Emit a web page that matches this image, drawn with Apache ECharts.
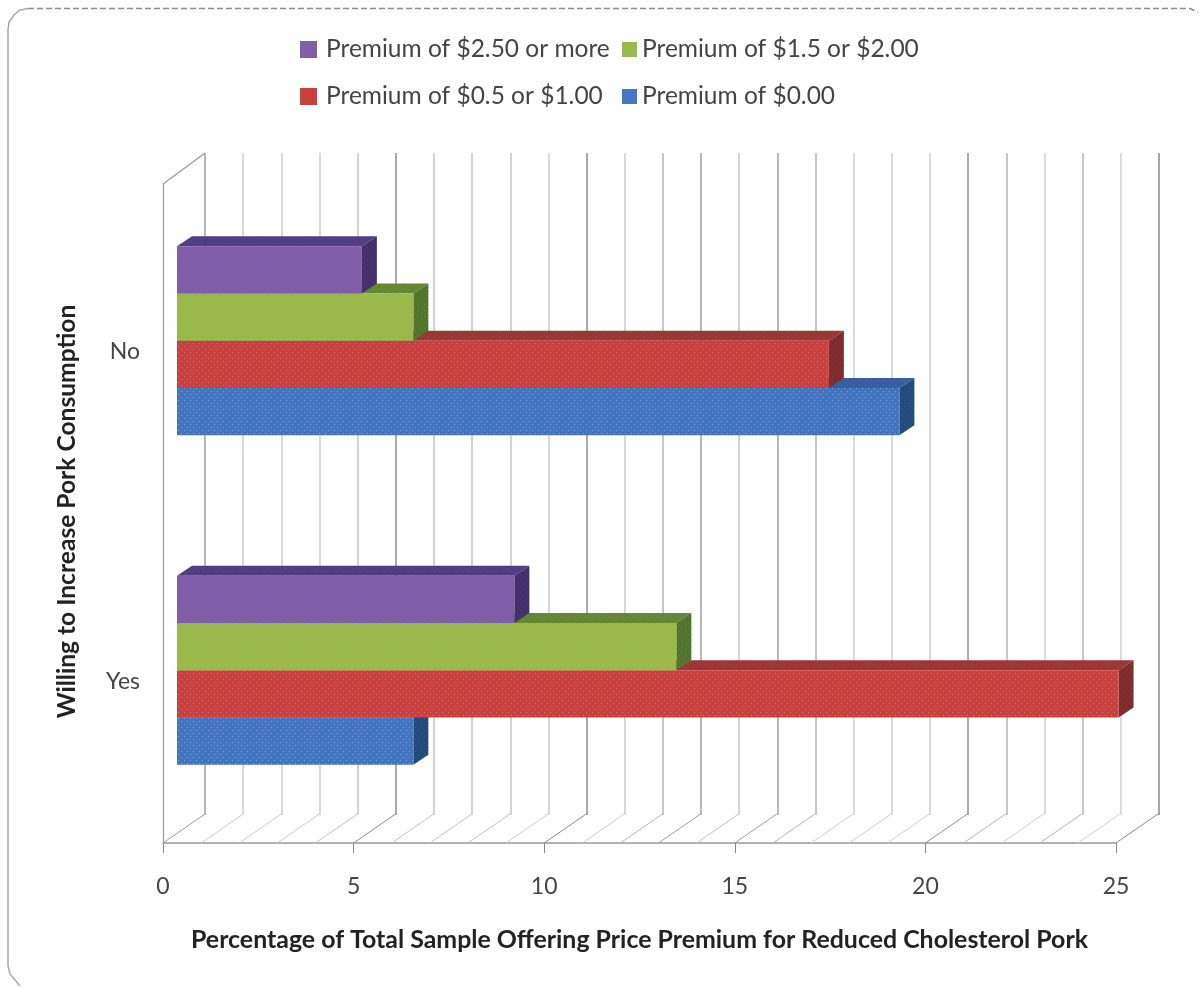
<!DOCTYPE html>
<html>
<head>
<meta charset="utf-8">
<style>html,body{margin:0;padding:0;background:#fff}#c{width:1200px;height:987px}</style>
<script src="https://cdn.jsdelivr.net/npm/echarts@6/dist/echarts.min.js"></script>
</head>
<body>
<div id="c"></div>
<script>
const categories = ['Yes', 'No'];
const seriesNames = ['Premium of $0.00', 'Premium of $0.5 or $1.00', 'Premium of $1.5 or $2.00', 'Premium of $2.50 or more'];
const premium000 = [6.2, 18.95];
const premium050 = [24.7, 17.1];
const premium150 = [13.1, 6.2];
const premium250 = [8.85, 4.85];
const gridTicks = [0,1,2,3,4,5,6,7,8,9,10,11,12,13,14,15,16,17,18,19,20,21,22,23,24,25];

const FONT = 'Lato';
const TEXT = '#444444';
const wallColors = ['#a0a0a0','#ccc','#ccc','#ccc','#c4c4c4','#8c8c8c','#c4c4c4','#c4c4c4','#c4c4c4','#ccc','#8c8c8c','#ccc','#b4b4b4','#a0a0a0','#c4c4c4','#a0a0a0','#b4b4b4','#d0d0d0','#ccc','#d0d0d0','#909090','#b4b4b4','#d0d0d0','#b4b4b4','#d0d0d0','#888'];

function texture(base, alt, dot) {
  const c = document.createElement('canvas');
  c.width = 6; c.height = 6;
  const g = c.getContext('2d');
  g.fillStyle = base; g.fillRect(0, 0, 6, 6);
  g.fillStyle = alt;
  for (let y = 0; y < 6; y++) for (let x = 0; x < 6; x++) if ((x + y) % 2 === 0) g.fillRect(x, y, 1, 1);
  g.fillStyle = dot;
  g.fillRect(1, 1, 1, 1); g.fillRect(4, 4, 1, 1);
  return { image: c, repeat: 'repeat' };
}
const looks = [
  { front: texture('#4678c4', '#3f6fb8', '#78a4dc'), top: texture('#3a66a4', '#2f5a98', '#3a66a4'), side: texture('#27507f', '#1f4675', '#2f5c8f'), legend: '#4577c2' },
  { front: texture('#cc4444', '#c23c40', '#d8783c'), top: texture('#a23a38', '#963032', '#a23a38'), side: texture('#83302e', '#782828', '#8e3533'), legend: '#c9413f' },
  { front: texture('#9cbc50', '#93b848', '#c0a848'), top: texture('#6b8c34', '#5f8230', '#6b8c34'), side: texture('#557a30', '#4c6e2a', '#5e8436'), legend: '#98ba4e' },
  { front: texture('#8264a8', '#7a5aa0', '#9040c8'), top: texture('#57408a', '#4e387e', '#57408a'), side: texture('#483470', '#3f2c66', '#503a78'), legend: '#7f60a6' }
];

const groupBars = 4;
const barRatio = 0.1433;

function barRenderer(seriesIdx) {
  return function (params, api) {
    const cat = api.value(1);
    const end = api.coord([api.value(0), cat]);
    const start = api.coord([0, cat]);
    const band = api.size([0, 1])[1];
    const h = band * barRatio;
    const x0 = start[0] + 14, x1 = end[0] + 14;
    const y = start[1] - 8 - h * groupBars / 2 + (groupBars - 1 - seriesIdx) * h;
    const dx = 15, dy = -10;
    const look = looks[seriesIdx];
    return {
      type: 'group',
      children: [
        { type: 'polygon', shape: { points: [[x0, y], [x0 + dx, y + dy], [x1 + dx, y + dy], [x1, y]] }, style: { fill: look.top } },
        { type: 'polygon', shape: { points: [[x1, y], [x1 + dx, y + dy], [x1 + dx, y + h + dy], [x1, y + h]] }, style: { fill: look.side } },
        { type: 'rect', shape: { x: x0, y: y, width: x1 - x0, height: h }, style: { fill: look.front } }
      ]
    };
  };
}

function floorRenderer(params, api) {
  const v = api.value(0);
  const x = api.coord([v, 0])[0];
  const cs = params.coordSys;
  const yb = cs.y + cs.height;
  const children = [{
    type: 'line',
    shape: { x1: x, y1: yb, x2: x + 42, y2: yb - 29 },
    style: { stroke: wallColors[v], lineWidth: 1 }
  }];
  if (v === 0) {
    children.push({
      type: 'line',
      shape: { x1: x, y1: cs.y, x2: x + 42, y2: cs.y - 31 },
      style: { stroke: '#999', lineWidth: 1.2 }
    });
  }
  return { type: 'group', children: children };
}

const allValues = [premium000, premium050, premium150, premium250];
const barSeries = allValues.map((vals, i) => ({
  name: seriesNames[i],
  type: 'custom',
  xAxisIndex: 0,
  yAxisIndex: 0,
  renderItem: barRenderer(i),
  itemStyle: { color: looks[i].legend },
  encode: { x: 0, y: 1 },
  clip: false,
  z: 5,
  data: vals.map((v, k) => [v, k])
}));

function legendItem(name, left, top, iconSize, textPad) {
  return {
    left: left, top: top, itemWidth: iconSize, itemHeight: iconSize, icon: 'rect',
    data: [name], selectedMode: false,
    textStyle: { fontFamily: FONT, fontSize: 24.5, color: TEXT, padding: [0, 0, 0, textPad] }
  };
}

const chart = echarts.init(document.getElementById('c'), null, { renderer: 'canvas' });
chart.setOption({
  animation: false,
  backgroundColor: '#fff',
  tooltip: { show: false },
  graphic: [
    { type: 'polyline', silent: true, shape: { points: [[28, 8.5], [1190, 8.5], [1198, 12]] }, style: { stroke: '#8c8c8c', lineWidth: 1.5, lineDash: [6, 3], fill: null } },
    { type: 'polyline', silent: true, shape: { points: [[28, 8.5], [20, 10], [14, 15], [9, 22], [8, 30], [8, 966], [10, 974], [20, 986]] }, style: { stroke: '#a8a8a8', lineWidth: 1.5, fill: null } }
  ],
  legend: [
    legendItem(seriesNames[3], 295, 32, 17, 4),
    legendItem(seriesNames[2], 617, 32, 15, 0),
    legendItem(seriesNames[1], 295, 79, 17, 4),
    legendItem(seriesNames[0], 617, 79, 15, 0)
  ],
  grid: [
    { left: 163, top: 184, width: 953, height: 659 },
    { left: 205, top: 153, width: 954, height: 662 }
  ],
  xAxis: [
    {
      type: 'value', gridIndex: 0, min: 0, max: 25, interval: 5,
      axisLine: { show: true, onZero: false, lineStyle: { color: '#999', width: 1.5 } },
      axisTick: { show: true, length: 10, lineStyle: { color: '#888' } },
      splitLine: { show: false },
      axisLabel: { fontFamily: FONT, fontSize: 23, color: TEXT, margin: 32 },
      name: 'Percentage of Total Sample Offering Price Premium for Reduced Cholesterol Pork',
      nameLocation: 'middle', nameGap: 84,
      nameTextStyle: { fontFamily: FONT, fontSize: 24.9, fontWeight: 'bold', color: '#222' }
    },
    {
      type: 'value', gridIndex: 1, min: 0, max: 25, interval: 1,
      axisLine: { show: false }, axisTick: { show: false }, axisLabel: { show: false },
      splitLine: { show: true, lineStyle: { color: wallColors, width: 1.5 } }
    }
  ],
  yAxis: [
    {
      type: 'category', gridIndex: 0, data: categories,
      axisLine: { show: true, lineStyle: { color: '#999', width: 1.2 } },
      axisTick: { show: false },
      axisLabel: { fontFamily: FONT, fontSize: 23, color: TEXT, margin: 23, verticalAlign: 'top', lineHeight: 6 },
      name: 'Willing to Increase Pork Consumption',
      nameLocation: 'middle', nameGap: 83, nameRotate: 90,
      nameTextStyle: { fontFamily: FONT, fontSize: 24.6, fontWeight: 'bold', color: '#222', padding: [0, 0, 0, 4] }
    },
    {
      type: 'category', gridIndex: 1, data: categories,
      axisLine: { show: false }, axisTick: { show: false }, axisLabel: { show: false }, splitLine: { show: false }
    }
  ],
  series: [
    {
      type: 'custom', xAxisIndex: 0, yAxisIndex: 0, renderItem: floorRenderer, silent: true, clip: false, z: 1,
      encode: { x: 0 },
      data: gridTicks.map(t => [t])
    }
  ].concat(barSeries)
});
</script>
</body>
</html>
